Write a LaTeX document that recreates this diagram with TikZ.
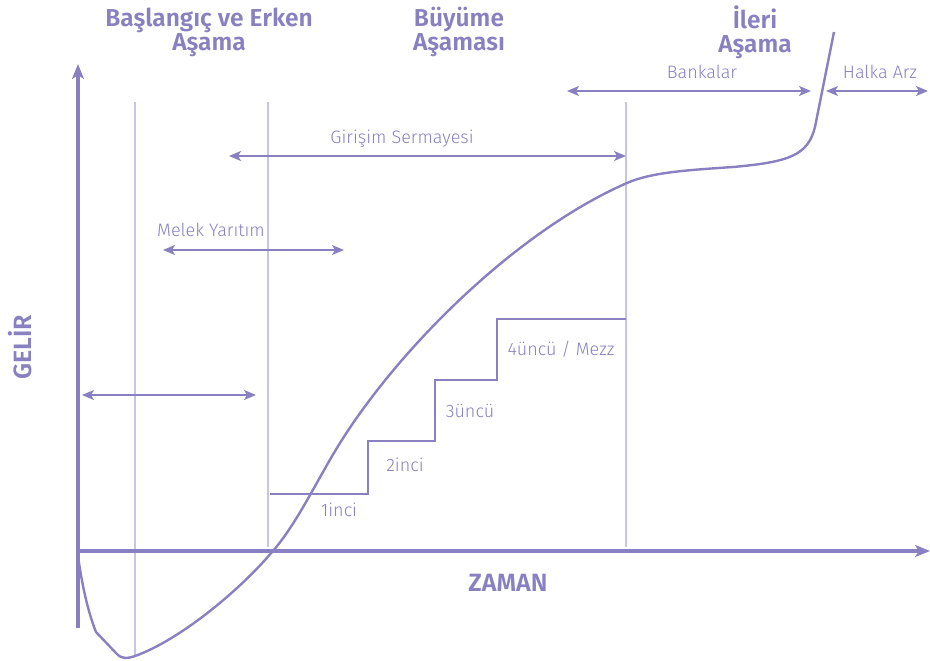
\documentclass[tikz,border=0pt]{standalone}
\usepackage{fontspec}
\setmainfont{Fira Sans Light}[BoldFont={Fira Sans SemiBold}]
\usetikzlibrary{arrows.meta}

\definecolor{mor}{RGB}{136,128,192}
\definecolor{acikmor}{RGB}{200,196,228}

\tikzset{
    eksen/.style={line width=3.5pt, mor, -{Stealth[length=15pt,width=12pt,inset=4pt]}},
    aralik/.style={line width=1.6pt, mor, {Stealth[length=12pt,width=10pt,inset=3pt]}-{Stealth[length=12pt,width=10pt,inset=3pt]}},
    sinir/.style={line width=1.3pt, acikmor},
    etiket/.style={text=mor, font=\fontsize{18}{20}\selectfont, inner sep=1pt},
    baslik/.style={text=mor, font=\bfseries\fontsize{24.5}{24}\selectfont, align=center, inner sep=0pt},
    eksenadi/.style={text=mor, font=\bfseries\fontsize{25}{25}\selectfont},
}

\begin{document}
\begin{tikzpicture}[x=1pt, y=-1pt]
    \useasboundingbox (0,0) rectangle (930,661);

    % dikey ayraclar
    \draw[sinir] (135,102) -- (135,655);
    \draw[sinir] (268,102) -- (268,547);
    \draw[sinir] (626,102) -- (626,547);

    % eksenler
    \coordinate (o) at (78,551);
    \coordinate (yust) at (78,64);
    \coordinate (yalt) at (78,628);
    \coordinate (xsag) at (930,551);
    \draw[eksen] (yalt) -- (yust);
    \draw[eksen] (o) -- (xsag);
    \node[eksenadi, rotate=90] (gelir) at (20,347) {GELİR};
    \node[eksenadi] (zaman) at (508,583) {ZAMAN};

    % asama basliklari
    \node[baslik] (erken) at (209,32) {Başlangıç ve Erken\\Aşama};
    \node[baslik] (buyume) at (459,32) {Büyüme\\Aşaması};
    \node[baslik] (ileri) at (755,32) {İleri\\Aşama};

    % finansman araliklari
    \coordinate (gs1) at (229,156);
    \coordinate (gs2) at (626,156);
    \draw[aralik] (gs1) -- (gs2);
    \node[etiket] (girisim) at (402,139) {Girişim Sermayesi};

    \coordinate (my1) at (163,250);
    \coordinate (my2) at (344,250);
    \draw[aralik] (my1) -- (my2);
    \node[etiket] (melek) at (211,230) {Melek Yarıtım};

    \coordinate (ka1) at (82,395);
    \coordinate (ka2) at (256,395);
    \draw[aralik] (ka1) -- (ka2);

    \coordinate (bn1) at (567,91);
    \coordinate (bn2) at (811,91);
    \draw[aralik] (bn1) -- (bn2);
    \node[etiket] (banka) at (702,72) {Bankalar};

    \coordinate (ha1) at (826,91);
    \coordinate (ha2) at (928,91);
    \draw[aralik] (ha1) -- (ha2);
    \node[etiket] (halka) at (880,72) {Halka Arz};

    % basamaklar
    \draw[mor, line width=2pt] (270,494) -- (368,494) -- (368,441) -- (435,441)
        -- (435,380) -- (497,380) -- (497,319) -- (626,319);
    \node[etiket] (b1) at (339,510) {1inci};
    \node[etiket] (b2) at (405,465) {2inci};
    \node[etiket] (b3) at (470,411) {3üncü};
    \node[etiket] (b4) at (561,349) {4üncü / Mezz};

    % gelir egrisi
    \draw[mor, line width=2.4pt, line join=round]
        (78,556) .. controls (82,585) and (88,612) .. (96,632)
        -- (116,653) .. controls (121,659) and (127,659) .. (135,656)
        .. controls (180,640) and (240,590) .. (272,552)
        .. controls (297,524) and (318,478) .. (340,443)
        .. controls (400,347) and (517,231) .. (627,183)
        .. controls (652,172) and (690,170) .. (733,167)
        .. controls (790,162) and (808,155) .. (815,127)
        -- (834,32);
\end{tikzpicture}
\end{document}
